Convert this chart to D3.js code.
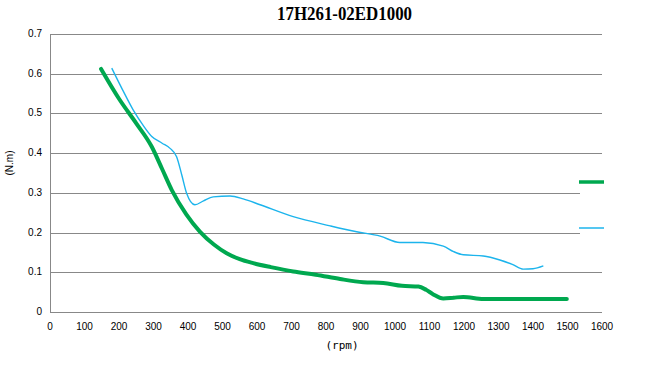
<!DOCTYPE html>
<html>
<head>
<meta charset="utf-8">
<script src="https://cdn.jsdelivr.net/npm/d3@7"></script>
<style>
  body { margin: 0; background: #fff; }
  text { fill: #000; }
</style>
</head>
<body>
<svg id="chart" width="648" height="365"></svg>
<script>
// torque curves
const greenRpm = [148, 200, 250, 295, 325, 353, 395, 435, 475, 512, 550, 589, 640, 705, 770, 841, 908, 966, 1020, 1068, 1090, 1110, 1140, 1170, 1198, 1256, 1350, 1498]
const greenVal = [0.612, 0.537, 0.475, 0.416, 0.36, 0.307, 0.246, 0.202, 0.17, 0.148, 0.133, 0.123, 0.113, 0.102, 0.094, 0.083, 0.075, 0.073, 0.066, 0.064, 0.056, 0.045, 0.034, 0.036, 0.038, 0.033, 0.033, 0.033]

const blueRpm = [179, 210, 241, 270, 295, 325, 348, 367, 382, 396, 420, 445, 473, 522, 560, 609, 705, 812, 889, 957, 1014, 1081, 1140, 1170, 1198, 1256, 1304, 1340, 1372, 1400, 1430]
const blueVal = [0.614, 0.56, 0.509, 0.47, 0.442, 0.425, 0.412, 0.391, 0.345, 0.299, 0.27, 0.28, 0.29, 0.292, 0.285, 0.27, 0.24, 0.217, 0.202, 0.191, 0.175, 0.175, 0.166, 0.152, 0.144, 0.141, 0.131, 0.12, 0.108, 0.109, 0.116]

const xTicks = d3.range(0, 1601, 100)
const yTicks = [0, 0.1, 0.2, 0.3, 0.4, 0.5, 0.6, 0.7]

const svg = d3.select("#chart")

var x = d3.scaleLinear().domain([0, 1600]).range([50, 602])
var y = d3.scaleLinear().domain([0, 0.7]).range([312, 34])

// gridlines
svg.append("g")
  .selectAll("line")
  .data(yTicks)
  .enter()
  .append("line")
    .attr("x1", x(0))
    .attr("x2", x(1600))
    .attr("y1", d => Math.round(y(d)) + 0.5)
    .attr("y2", d => Math.round(y(d)) + 0.5)
    .attr("stroke", "#888")
    .attr("stroke-width", 1)

// y axis line
svg.append("line")
  .attr("x1", 50.5).attr("x2", 50.5)
  .attr("y1", y(0.7)).attr("y2", y(0) + 0.5)
  .attr("stroke", "#888")

// tick labels
svg.append("g")
  .selectAll("text")
  .data(yTicks)
  .enter()
  .append("text")
    .attr("x", 42)
    .attr("y", d => y(d) + 3)
    .attr("text-anchor", "end")
    .style("font", "10px 'Liberation Sans', sans-serif")
    .text(d => d)

svg.append("g")
  .selectAll("text")
  .data(xTicks)
  .enter()
  .append("text")
    .attr("x", d => x(d))
    .attr("y", 330)
    .attr("text-anchor", "middle")
    .style("font", "10px 'Liberation Sans', sans-serif")
    .text(d => d)

// titles
svg.append("text")
  .attr("x", 277).attr("y", 20)
  .attr("textLength", 135)
  .attr("lengthAdjust", "spacingAndGlyphs")
  .style("font", "bold 18px 'Liberation Serif', serif")
  .text("17H261-02ED1000")

svg.append("text")
  .attr("x", 342).attr("y", 349)
  .attr("text-anchor", "middle")
  .style("font", "11px 'DejaVu Sans Mono', monospace")
  .text("(rpm)")

svg.append("text")
  .attr("transform", "translate(13,163) rotate(-90)")
  .attr("text-anchor", "middle")
  .style("font", "10px 'Liberation Sans', sans-serif")
  .text("(N.m)")

// curves
var line = d3.line()
  .x(d => x(d[0]))
  .y(d => y(d[1]))
  .curve(d3.curveMonotoneX)

svg.append("path")
  .datum(d3.zip(blueRpm, blueVal))
  .attr("d", line)
  .attr("fill", "none")
  .attr("stroke", "#1cb4ec")
  .attr("stroke-width", 1.4)

svg.append("path")
  .datum(d3.zip(greenRpm, greenVal))
  .attr("d", line)
  .attr("fill", "none")
  .attr("stroke", "#00a84f")
  .attr("stroke-width", 4)
  .attr("stroke-linecap", "round")

// legend (text got cut off in the original, only the keys remain)
var legend = svg.append("g")
legend.append("rect")
  .attr("x", 580).attr("y", 166).attr("width", 40).attr("height", 76)
  .attr("fill", "#fff")
legend.append("line")
  .attr("x1", 579).attr("x2", 604).attr("y1", 182).attr("y2", 182)
  .attr("stroke", "#00a84f").attr("stroke-width", 3.5)
legend.append("line")
  .attr("x1", 579).attr("x2", 604).attr("y1", 228).attr("y2", 228)
  .attr("stroke", "#1cb4ec").attr("stroke-width", 1.5)
</script>
</body>
</html>
